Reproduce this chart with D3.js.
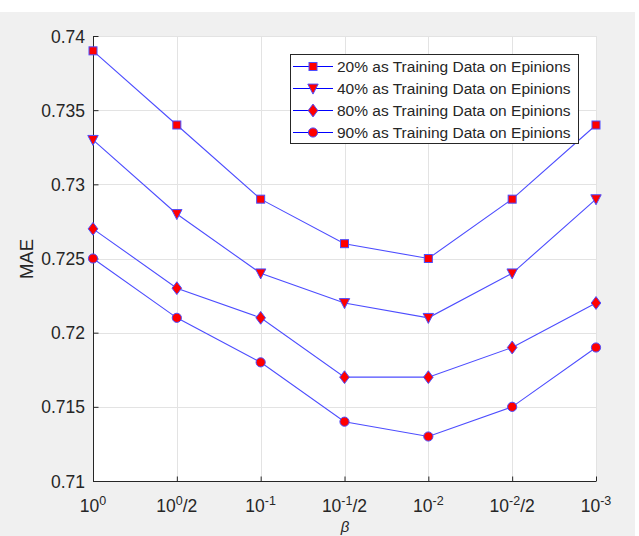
<!DOCTYPE html>
<html><head><meta charset="utf-8">
<script src="https://cdn.jsdelivr.net/npm/d3@7"></script>
<style>body{margin:0;background:#fff}svg{display:block}text{font-family:"Liberation Sans",Arial,Helvetica,sans-serif}</style>
</head><body><svg id="c" width="639" height="536"></svg>
<script>
const xTicks = [["0",""],["0","/2"],["-1",""],["-1","/2"],["-2",""],["-2","/2"],["-3",""]];
const yTicks = [0.71,0.715,0.72,0.725,0.73,0.735,0.74];
const seriesNames = ["20% as Training Data on Epinions","40% as Training Data on Epinions","80% as Training Data on Epinions","90% as Training Data on Epinions"];
const s20 = [0.739,0.734,0.729,0.726,0.725,0.729,0.734];
const s40 = [0.733,0.728,0.724,0.722,0.721,0.724,0.729];
const s80 = [0.727,0.723,0.721,0.717,0.717,0.719,0.722];
const s90 = [0.725,0.721,0.718,0.714,0.713,0.715,0.719];
const series = [s20,s40,s80,s90];
const markers = ["square","triangle","diamond","circle"];

const svg = d3.select("#c");
svg.append("rect").attr("x",0).attr("y",12).attr("width",635).attr("height",524).attr("fill","#f0f0f0");
const L=93,R=596,T=36,B=481;
const x = d3.scaleLinear().domain([0,6]).range([L,R]);
const y = d3.scaleLinear().domain([0.71,0.74]).range([B,T]);
svg.append("rect").attr("x",L).attr("y",T).attr("width",R-L).attr("height",B-T).attr("fill","#fff");
// grid
const g = svg.append("g");
g.selectAll(".gx").data(d3.range(7)).enter().append("line")
 .attr("x1",d=>Math.round(x(d))+0.5).attr("x2",d=>Math.round(x(d))+0.5).attr("y1",T).attr("y2",B).attr("stroke","#e3e3e3");
g.selectAll(".gy").data(yTicks).enter().append("line")
 .attr("y1",d=>Math.round(y(d))+0.5).attr("y2",d=>Math.round(y(d))+0.5).attr("x1",L).attr("x2",R).attr("stroke","#e3e3e3");
// axes
const ax = svg.append("g").attr("transform",`translate(0,${B+0.5})`).call(d3.axisBottom(x).tickValues(d3.range(7)).tickSize(-5).tickFormat(""));
ax.select(".domain").attr("stroke","#262626").attr("d",`M${L},0H${R}`);
ax.selectAll(".tick line").attr("stroke","#262626");
const ay = svg.append("g").attr("transform",`translate(${L+0.5},0)`).call(d3.axisLeft(y).tickValues(yTicks).tickSize(-5).tickFormat(""));
ay.select(".domain").attr("stroke","#262626").attr("d",`M0,${B}V${T}`);
ay.selectAll(".tick line").attr("stroke","#262626");
// y labels
svg.selectAll(".yl").data(yTicks).enter().append("text")
 .attr("x",L-8).attr("y",d=>y(d)+6.5).attr("text-anchor","end").attr("font-size",17.5).attr("fill","#262626")
 .text(d=>d3.format("")(+d.toFixed(3)));
// x labels
const xl = svg.selectAll(".xl").data(xTicks).enter().append("text")
 .attr("x",(d,i)=>x(i)).attr("y",512).attr("text-anchor","middle").attr("font-size",17.5).attr("fill","#262626");
xl.append("tspan").text("10");
xl.append("tspan").attr("dy",-7).attr("font-size",12.5).text(d=>d[0]);
xl.append("tspan").attr("dy",7).text(d=>d[1]);
// axis titles
svg.append("text").attr("x",345).attr("y",532).attr("text-anchor","middle").attr("font-size",15).attr("font-style","italic").attr("fill","#262626").text("β");
svg.append("text").attr("transform","translate(33,259) rotate(-90)").attr("text-anchor","middle").attr("font-size",18.5).attr("fill","#262626").text("MAE");
// marker
function marker(sel,type,size){
  if(type==="square") sel.append("rect").attr("x",-size/2).attr("y",-size/2).attr("width",size).attr("height",size);
  else if(type==="circle") sel.append("circle").attr("r",size/2+0.6);
  else if(type==="diamond") sel.append("path").attr("d",`M0,${-size*0.8}L${size*0.6},0L0,${size*0.8}L${-size*0.6},0Z`);
  else sel.append("path").attr("d",`M${-size*0.65},${-size*0.55}L${size*0.65},${-size*0.55}L0,${size*0.7}Z`);
  sel.selectAll("*").attr("fill","#ff0000").attr("stroke","#4d4dff").attr("stroke-width",1);
}
const line = d3.line().x((d,i)=>x(i)).y(d=>y(d));
series.forEach((s,k)=>{
  svg.append("path").datum(s).attr("d",line).attr("fill","none").attr("stroke","#4d4dff").attr("stroke-width",1.1);
  s.forEach((v,i)=>{
    const m = svg.append("g").attr("transform",`translate(${x(i)},${y(v)})`);
    marker(m,markers[k],8);
  });
});
// legend
const lg = svg.append("g");
lg.append("rect").attr("x",290.5).attr("y",54.5).attr("width",288).attr("height",89).attr("fill","#fff").attr("stroke","#262626").attr("stroke-width",1);
seriesNames.forEach((n,k)=>{
  const yy = 66.5+k*22;
  lg.append("line").attr("x1",293).attr("x2",333).attr("y1",yy).attr("y2",yy).attr("stroke","#0000ff").attr("stroke-width",1);
  const m = lg.append("g").attr("transform",`translate(313,${yy})`);
  marker(m,markers[k],8);
  lg.append("text").attr("x",337).attr("y",yy+5.5).attr("font-size",15.5).attr("fill","#262626").text(n);
});
</script></body></html>
